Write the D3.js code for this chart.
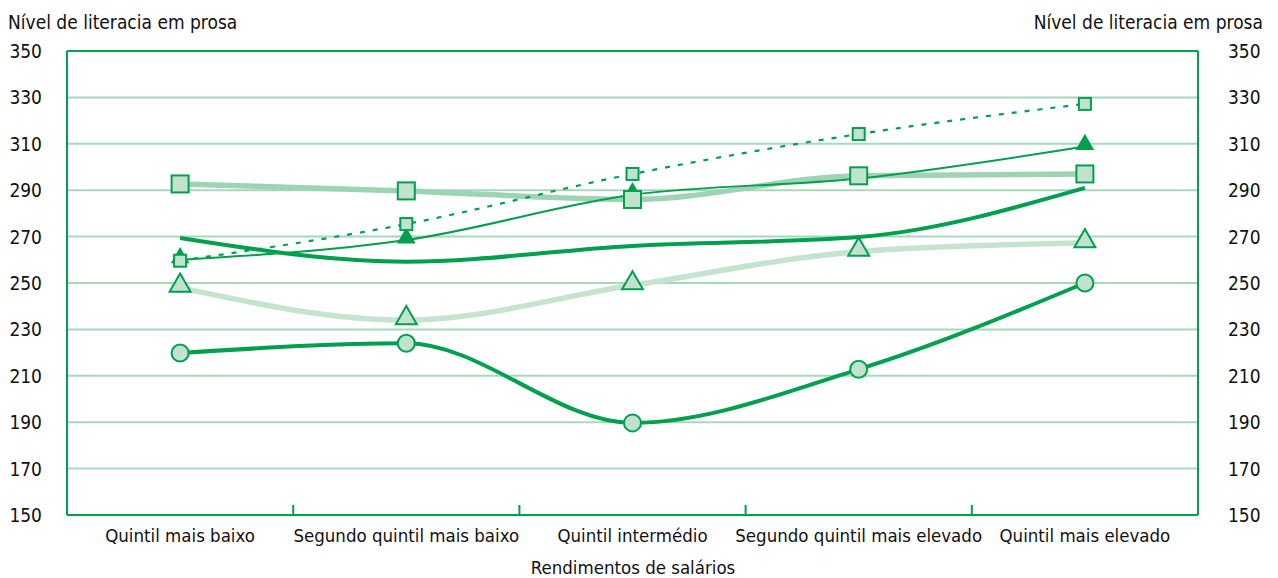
<!DOCTYPE html>
<html>
<head>
<meta charset="utf-8">
<script src="https://cdn.jsdelivr.net/npm/d3@7"></script>
<style>
  body { margin: 0; background: #fff; }
  svg text { font-family: "Liberation Sans Narrow", "DejaVu Sans Condensed", "Roboto", sans-serif; fill: #111; }
</style>
</head>
<body>
<svg id="chart" width="1278" height="578"></svg>
<script>
// Data
const categories = ["Quintil mais baixo", "Segundo quintil mais baixo", "Quintil intermédio", "Segundo quintil mais elevado", "Quintil mais elevado"];
const yTicks = [150, 170, 190, 210, 230, 250, 270, 290, 310, 330, 350];

const bigSquares = [292.7, 289.7, 286, 296.2, 297];
const smallSquaresDotted = [259.6, 275.4, 297, 314.2, 327.2];
const filledTriangles = [260, 268.5, 288, 295, 308.8];
const plainThick = [269.4, 259.2, 266, 269.8, 291];
const openTriangles = [248, 234, 249, 263.5, 267.2];
const circles = [219.8, 224, 189.7, 212.8, 250];

const dark = "#00a04f";
const lightFill = "#c2e2cf";
const gridColor = "#a6d8ba";

const svg = d3.select("#chart");
const margin = { left: 67, right: 80, top: 51, bottom: 63 };
const width = 1278, height = 578;

const x = d3.scaleBand().domain(categories).range([margin.left, width - margin.right]);
const y = d3.scaleLinear().domain([150, 350]).range([height - margin.bottom, margin.top]);
const cx = (i) => x(categories[i]) + x.bandwidth() / 2;

// Grid
svg.append("g")
  .selectAll("line")
  .data(yTicks.filter((t) => t > 150 && t < 350))
  .enter()
  .append("line")
  .attr("x1", margin.left)
  .attr("x2", width - margin.right)
  .attr("y1", (d) => y(d))
  .attr("y2", (d) => y(d))
  .attr("stroke", gridColor)
  .attr("stroke-width", 2);

// Frame: left, right, bottom, top
const frame = svg.append("g").attr("stroke", dark).attr("stroke-width", 2);
frame.append("line").attr("x1", margin.left).attr("x2", margin.left).attr("y1", y(350)).attr("y2", y(150));
frame.append("line").attr("x1", width - margin.right).attr("x2", width - margin.right).attr("y1", y(350)).attr("y2", y(150));
frame.append("line").attr("x1", margin.left).attr("x2", width - margin.right).attr("y1", y(150)).attr("y2", y(150));
frame.append("line").attr("x1", margin.left).attr("x2", width - margin.right).attr("y1", y(350)).attr("y2", y(350));

// small ticks between categories
frame.selectAll("line.tick")
  .data(categories.slice(1))
  .enter()
  .append("line")
  .attr("class", "tick")
  .attr("x1", (d) => x(d))
  .attr("x2", (d) => x(d))
  .attr("y1", y(150))
  .attr("y2", y(150) - 10);

// Y tick labels (both sides)
svg.append("g")
  .selectAll("text")
  .data(yTicks)
  .enter()
  .append("text")
  .attr("x", 42)
  .attr("y", (d) => y(d) + 7)
  .attr("text-anchor", "end")
  .attr("font-size", 19)
  .text((d) => d);

svg.append("g")
  .selectAll("text")
  .data(yTicks)
  .enter()
  .append("text")
  .attr("x", 1228)
  .attr("y", (d) => y(d) + 7)
  .attr("font-size", 19)
  .text((d) => d);

// Axis titles
svg.append("text").attr("x", 8).attr("y", 29).attr("font-size", 19).text("Nível de literacia em prosa");
svg.append("text").attr("x", 1263).attr("y", 29).attr("font-size", 19).attr("text-anchor", "end").text("Nível de literacia em prosa");

// Category labels
svg.append("g")
  .selectAll("text")
  .data(categories)
  .enter()
  .append("text")
  .attr("x", (d, i) => cx(i))
  .attr("y", 542)
  .attr("text-anchor", "middle")
  .attr("font-size", 18.5)
  .text((d) => d);

svg.append("text").attr("x", 633).attr("y", 574).attr("text-anchor", "middle").attr("font-size", 18.5).text("Rendimentos de salários");

// Lines
const line = d3.line()
  .x((d, i) => cx(i))
  .y((d) => y(d))
  .curve(d3.curveMonotoneX);

function drawLine(values, color, w, dash) {
  svg.append("path")
    .datum(values)
    .attr("d", line)
    .attr("fill", "none")
    .attr("stroke", color)
    .attr("stroke-width", w)
    .attr("stroke-dasharray", dash || null);
}

drawLine(openTriangles, "#c4e4d0", 5.5);
drawLine(bigSquares, "#9fd3b5", 5.5);
drawLine(circles, dark, 4);
drawLine(plainThick, dark, 4);
drawLine(filledTriangles, dark, 2);
drawLine(smallSquaresDotted, dark, 2.2, "5,8");

// Markers
const tri = d3.symbol().type(d3.symbolTriangle);

function drawTriangles(values, size, fill) {
  svg.append("g")
    .selectAll("path")
    .data(values)
    .enter()
    .append("path")
    .attr("d", tri.size(size)())
    .attr("transform", (d, i) => `translate(${cx(i)},${y(d) - 2})`)
    .attr("fill", fill)
    .attr("stroke", dark)
    .attr("stroke-width", 2);
}

function drawSquares(values, s) {
  svg.append("g")
    .selectAll("rect")
    .data(values)
    .enter()
    .append("rect")
    .attr("x", (d, i) => cx(i) - s / 2)
    .attr("y", (d) => y(d) - s / 2)
    .attr("width", s)
    .attr("height", s)
    .attr("fill", lightFill)
    .attr("stroke", dark)
    .attr("stroke-width", 2);
}

drawTriangles(filledTriangles, 100, dark);
drawTriangles(openTriangles, 190, lightFill);

svg.append("g")
  .selectAll("circle")
  .data(circles)
  .enter()
  .append("circle")
  .attr("cx", (d, i) => cx(i))
  .attr("cy", (d) => y(d))
  .attr("r", 8.5)
  .attr("fill", lightFill)
  .attr("stroke", dark)
  .attr("stroke-width", 2);

drawSquares(bigSquares, 17);
drawSquares(smallSquaresDotted, 12);
</script>
</body>
</html>
